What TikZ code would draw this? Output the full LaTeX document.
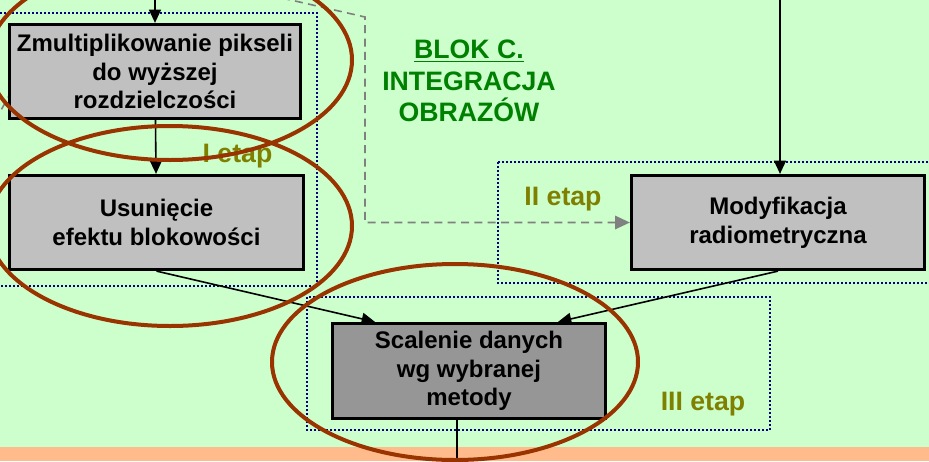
\documentclass[tikz,border=0pt]{standalone}
\usepackage{fontspec}
\setmainfont{Liberation Sans}
\usetikzlibrary{arrows.meta,calc}
\definecolor{bggreen}{HTML}{CCFFCC}
\definecolor{bandorange}{HTML}{FFBB8C}
\definecolor{boxgray}{HTML}{C0C0C0}
\definecolor{boxdark}{HTML}{969696}
\definecolor{framenavy}{HTML}{000080}
\definecolor{etapolive}{HTML}{808000}
\definecolor{blokgreen}{HTML}{008000}
\definecolor{ringbrown}{HTML}{993300}
\definecolor{jumpgray}{HTML}{808080}

\begin{document}
\begin{tikzpicture}[
  x = 0.75pt, y = -0.75pt,
  every node/.style = {font=\bfseries\fontsize{18}{21.5}\selectfont, inner sep=0pt, align=center},
  box/.style = {draw, line width=2.4pt, fill=boxgray, minimum height=70.5pt},
  frame/.style = {draw=framenavy, line width=1.5pt, dash pattern=on 1.5pt off 1.5pt},
  etap/.style = {font=\bfseries\fontsize{20}{24}\selectfont, text=etapolive, anchor=base},
  link/.style = {draw, line width=1.2pt, -{Triangle[length=10pt, width=9pt]}},
  jump/.style = {draw=jumpgray, line width=1.2pt, dash pattern=on 6pt off 4pt},
  ring/.style = {draw=ringbrown, line width=3pt},
]

\useasboundingbox (0,0) rectangle (929,461);
\clip (0,0) rectangle (929,461);
\fill[bggreen] (0,0) rectangle (929,447);
\fill[bandorange] (0,447) rectangle (929,461);

\draw[frame] (-10,13) rectangle (317,286);
\draw[frame] (498,162) rectangle (940,283);
\draw[frame] (307,297) rectangle (770,430);

\node[etap] (etap1) at (237.5,162) {I etap};
\node[etap] (etap2) at (563,205) {II etap};
\node[etap] (etap3) at (703,410) {III etap};
\node[font=\bfseries\fontsize{20}{23.6}\selectfont, text=blokgreen, anchor=north]
  (blok) at (469,40) {\underline{BLOK C.}\\INTEGRACJA\\OBRAZÓW};

\coordinate (jumpA) at (-5,121);
\coordinate (jumpB) at (40,40);
\coordinate (jumpC) at (282,-2);
\coordinate (jumpD) at (365,17);
\coordinate (in1) at (155,-5);
\coordinate (in3) at (780,-5);
\coordinate (out4) at (457,470);

\draw[jump] (jumpA) -- (jumpB);

\node[box, minimum width=218.25pt] (mult) at (155,71.5)
  {Zmultiplikowanie pikseli\\do wyższej\\rozdzielczości};
\node[box, minimum width=220.5pt] (usun) at (156.5,222.5)
  {Usunięcie\\efektu blokowości};
\node[box, minimum width=219.75pt] (modyf) at (778,222.5)
  {Modyfikacja\\radiometryczna};
\node[box, fill=boxdark, minimum width=204.75pt, minimum height=71.25pt] (scal) at (469,371)
  {Scalenie danych\\wg wybranej\\metody};

\draw[jump, -{Triangle[length=11pt, width=10pt]}] (jumpC) -- (jumpD) |- (modyf.west);
\draw[link] (in1) -- (mult.north);
\draw[link] (mult) -- (usun);
\draw[link] (in3) -- (in3 |- modyf.north);
\draw[link] (usun.south) -- ($(scal.north)+(-94,0)$);
\draw[link] (modyf.south) -- ($(scal.north)+(89,0)$);
\draw[line width=1.2pt] (scal.south -| out4) -- (out4);

\draw[ring] (170,60) ellipse [x radius=182, y radius=100];
\draw[ring] (170,226) ellipse [x radius=182, y radius=100];
\draw[ring] (455,362) ellipse [x radius=183, y radius=98];

\end{tikzpicture}
\end{document}
